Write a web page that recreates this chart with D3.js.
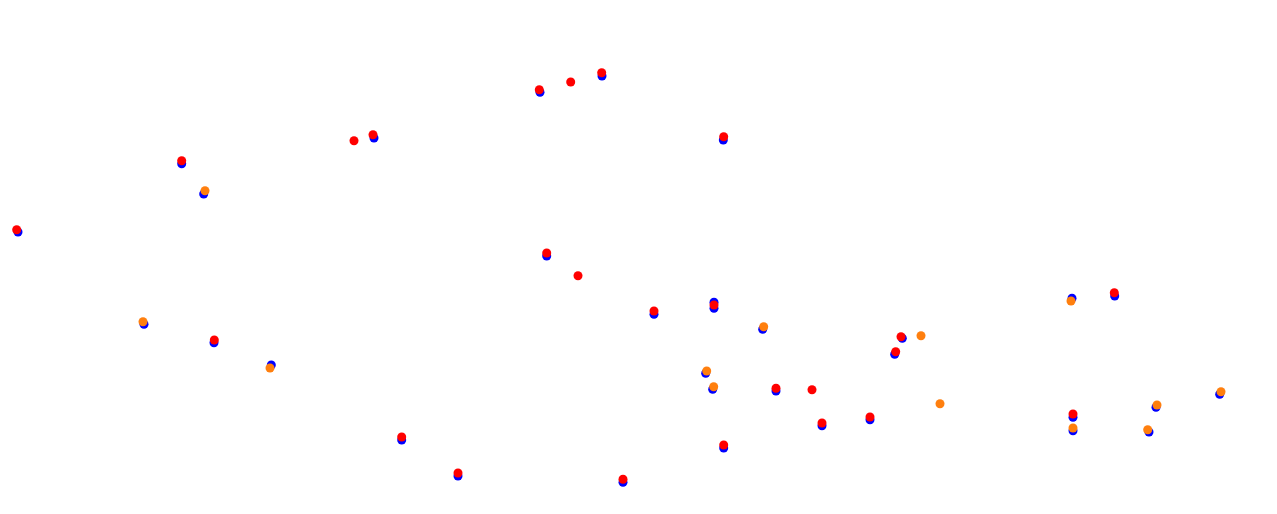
<!DOCTYPE html>
<html>
<head>
<meta charset="utf-8">
<script src="https://cdnjs.cloudflare.com/ajax/libs/d3/7.8.5/d3.min.js"></script>
<style>
  html, body { margin: 0; padding: 0; background: #fff; }
  svg { display: block; }
</style>
</head>
<body>
<svg id="chart"></svg>
<script>
// lower layer (blue)
var baseX = [1.8, 18.17, 20.37, 37.4, 54.0, 60.2, 72.33, 54.67, 14.4, 21.4, 27.13, 65.4, 71.4, 71.4, 76.27, 70.57, 71.27, 77.6, 40.17, 45.8, 62.3, 72.37, 82.2, 87.0, 90.23, 89.47, 107.2, 111.47, 107.3, 107.3, 115.6, 114.9, 121.97];
var baseY = [28.2, 35.03, 32.0, 37.6, 42.17, 43.8, 37.4, 25.8, 18.97, 17.13, 14.9, 19.97, 21.17, 20.57, 18.47, 14.07, 12.47, 12.3, 7.4, 3.8, 3.17, 6.6, 8.83, 9.43, 17.57, 15.97, 21.57, 21.8, 9.67, 8.33, 10.67, 8.2, 11.97];

// upper layer (red / orange)
var topX = [1.67, 18.17, 20.5, 35.4, 37.3, 53.93, 57.07, 60.17, 72.37, 54.67, 14.3, 21.43, 27.0, 57.8, 65.4, 71.4, 76.37, 70.67, 71.37, 77.6, 40.17, 45.8, 62.3, 72.37, 81.2, 82.2, 87.0, 90.1, 92.1, 89.57, 94.0, 107.1, 111.43, 107.3, 107.3, 115.7, 114.77, 122.1];
var topY = [28.43, 35.33, 32.33, 37.33, 37.93, 42.43, 43.2, 44.13, 37.73, 26.1, 19.23, 17.4, 14.6, 23.83, 20.3, 20.9, 18.73, 14.3, 12.73, 12.57, 7.7, 4.1, 3.47, 6.9, 12.43, 9.1, 9.7, 17.73, 17.83, 16.23, 11.03, 21.3, 22.13, 10.0, 8.6, 10.9, 8.43, 12.23];
var topKind = ["r","r","o","r","r","r","r","r","r","r","o","r","o","r","r","r","o","o","o","r","r","r","r","r","r","r","r","r","o","r","o","o","r","r","o","o","o","o"];

var width = 1277, height = 514;

var svg = d3.select("#chart")
    .attr("width", width)
    .attr("height", height);

var x = d3.scaleLinear().domain([0, 127.7]).range([0, width]);
var y = d3.scaleLinear().domain([0, 51.4]).range([height, 0]);
var kindColor = d3.scaleOrdinal().domain(["r", "o"]).range(["#ff0000", "#ff7f0e"]);

svg.append("g").selectAll("circle")
    .data(baseX)
    .enter().append("circle")
        .attr("cx", function(d) { return x(d); })
        .attr("cy", function(d, i) { return y(baseY[i]); })
        .attr("r", 4.5)
        .attr("fill", "#0000ff");

svg.append("g").selectAll("circle")
    .data(topX)
    .enter().append("circle")
        .attr("cx", function(d) { return x(d); })
        .attr("cy", function(d, i) { return y(topY[i]); })
        .attr("r", 4.5)
        .attr("fill", function(d, i) { return kindColor(topKind[i]); });
</script>
</body>
</html>
